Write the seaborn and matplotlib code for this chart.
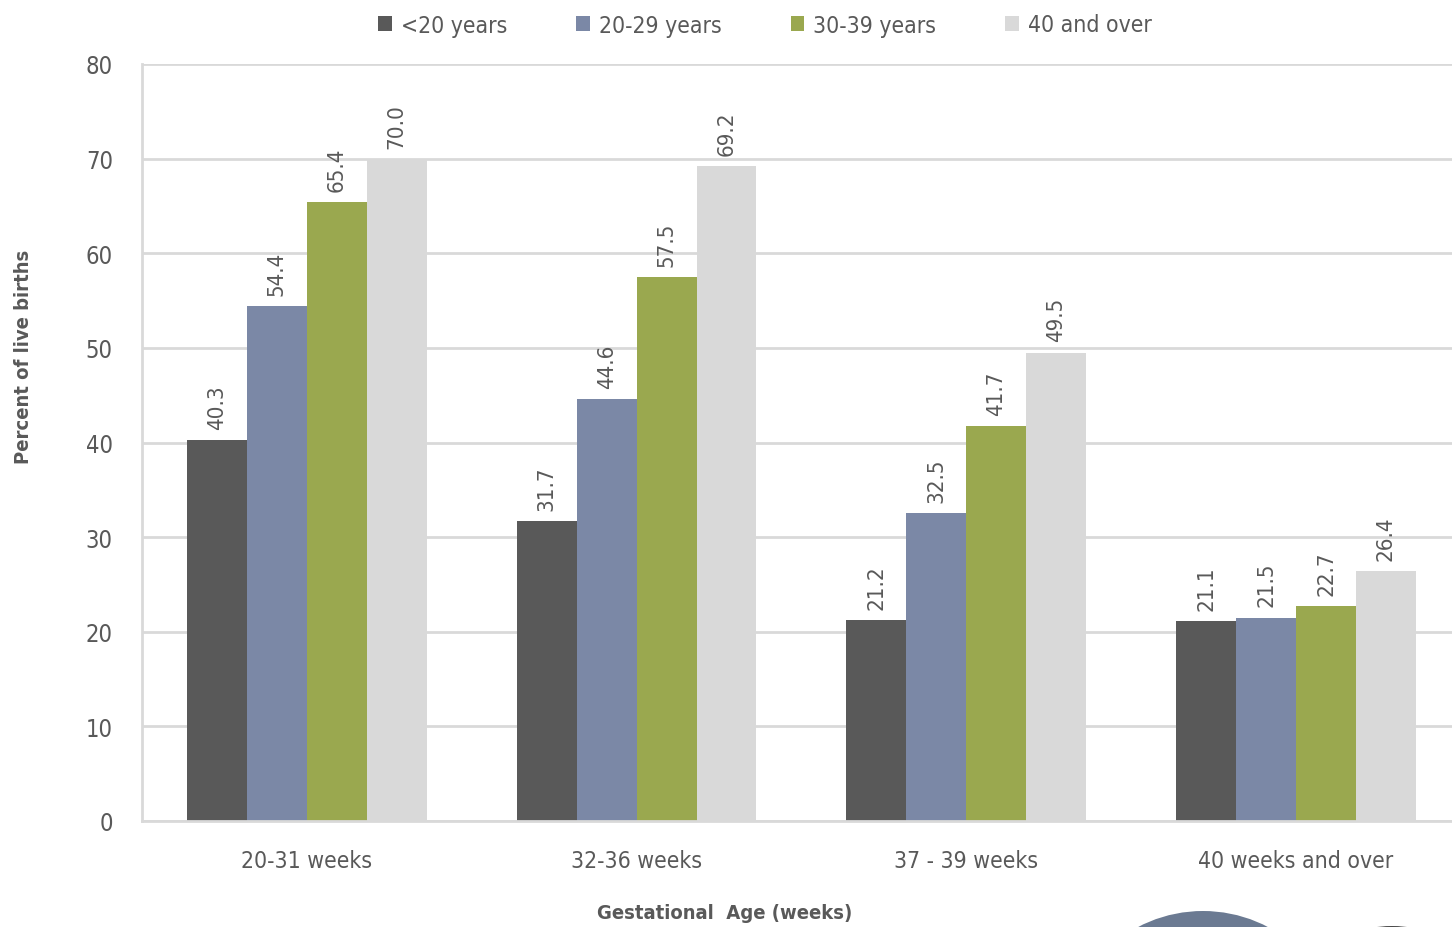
import pandas as pd
import numpy as np
import matplotlib
matplotlib.use('Agg')
import matplotlib.pyplot as plt
from matplotlib.patches import Circle
import seaborn as sns

weeks = ['20-31 weeks', '32-36 weeks', '37 - 39 weeks', '40 weeks and over']
age_groups = ['<20 years', '20-29 years', '30-39 years', '40 and over']
under20 = [40.3, 31.7, 21.2, 21.1]
age20_29 = [54.4, 44.6, 32.5, 21.5]
age30_39 = [65.4, 57.5, 41.7, 22.7]
age40_over = [70.0, 69.2, 49.5, 26.4]
colors = ['#595959', '#7B88A6', '#9AA84F', '#D9D9D9']

df = pd.DataFrame({
    'week': weeks * 4,
    'age': np.repeat(age_groups, 4),
    'pct': under20 + age20_29 + age30_39 + age40_over,
})

sns.set_theme(style='white')
plt.rcParams['font.family'] = ['Liberation Sans Narrow', 'DejaVu Sans']
plt.rcParams['font.stretch'] = 'condensed'
txt = '#595959'

fig = plt.figure(figsize=(14.52, 9.28), dpi=100)
ax = fig.add_axes([142 / 1452, 106 / 928, 1 - 142 / 1452, 757 / 928])

sns.barplot(data=df, x='week', y='pct', hue='age', palette=colors,
            width=0.727, gap=0, ax=ax, saturation=1, linewidth=0, legend=True)

for c in ax.containers:
    ax.bar_label(c, fmt='%.1f', rotation=90, padding=8, fontsize=16, color=txt)

ax.set_ylim(0, 80)
ax.set_xlim(-0.5, 3.473)
ax.set_yticks(range(0, 81, 10))
ax.yaxis.grid(True, color='#D9D9D9', linewidth=2)
ax.set_axisbelow(True)
for s in ['top', 'right']:
    ax.spines[s].set_visible(False)
ax.spines['left'].set_color('#D9D9D9')
ax.spines['left'].set_linewidth(2)
ax.spines['bottom'].set_color('#D9D9D9')
ax.spines['bottom'].set_linewidth(2)
ax.tick_params(axis='y', length=7, width=2, color='#D9D9D9', labelsize=17, labelcolor=txt, pad=14)
ax.tick_params(axis='x', length=0, labelsize=16.5, labelcolor=txt, pad=20)

ax.set_xlabel('Gestational  Age (weeks)', fontsize=14.5, fontweight='bold', color=txt)
ax.set_ylabel('Percent of live births', fontsize=14.5, fontweight='bold', color=txt)
ax.xaxis.set_label_coords(0.445, -0.1085)
ax.yaxis.set_label_coords(-0.083, 0.614)

ax.legend(loc='center', bbox_to_anchor=(765 / 1452, 1 - 26 / 928), bbox_transform=fig.transFigure,
          ncol=4, frameon=False, fontsize=16.5, labelcolor=txt, handlelength=0.6, handleheight=0.6,
          handletextpad=0.4, columnspacing=3.0)

# decorative circles cut off at the bottom edge
fig.patches.append(Circle((12.03, -1.24), 1.40, transform=fig.dpi_scale_trans,
                          facecolor='#6B7A92', edgecolor='none'))
fig.patches.append(Circle((13.92, -1.19), 1.20, transform=fig.dpi_scale_trans,
                          facecolor='#4A4A4A', edgecolor='none'))

fig.savefig('out.png', dpi=100)
